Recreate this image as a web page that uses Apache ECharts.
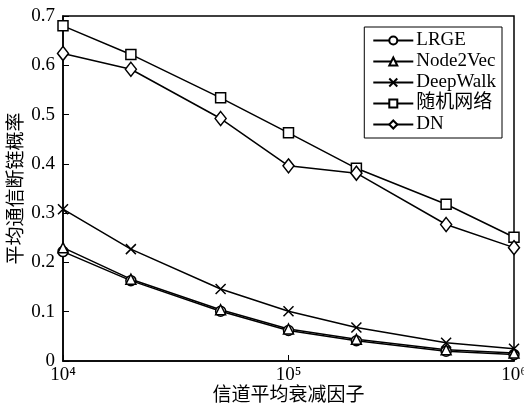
<!DOCTYPE html>
<html>
<head>
<meta charset="utf-8">
<script src="https://cdn.jsdelivr.net/npm/echarts@6/dist/echarts.min.js"></script>
<style>
  html, body { margin: 0; padding: 0; background: #fff; }
  #box1 { width: 524px; height: 404px; }
</style>
</head>
<body>
<div id="box1"></div>
<script>
let xValues = [1e4, 2e4, 5e4, 1e5, 2e5, 5e5, 1e6];
let lrge = [0.222, 0.163, 0.101, 0.062, 0.041, 0.020, 0.013];
let node2vec = [0.230, 0.166, 0.104, 0.065, 0.044, 0.023, 0.016];
let deepwalk = [0.308, 0.227, 0.146, 0.101, 0.068, 0.037, 0.025];
let randomNet = [0.680, 0.622, 0.534, 0.463, 0.391, 0.318, 0.251];
let dn = [0.624, 0.592, 0.492, 0.396, 0.381, 0.277, 0.230];
let xTickLabels = { 10000: '10⁴', 100000: '10⁵', 1000000: '10⁶' };

let serif = '"Liberation Serif", "Times New Roman", serif';
let cjk = '"Liberation Serif", "Noto Sans CJK SC", serif';

function pairs(ys) {
    return xValues.map((x, i) => [x, ys[i]]);
}

function makeSeries(name, ys, symbol, size) {
    return {
        name: name,
        type: 'line',
        data: pairs(ys),
        symbol: symbol,
        symbolSize: size,
        lineStyle: { color: '#000', width: 1.5 },
        itemStyle: { color: '#fff', borderColor: '#000', borderWidth: 1.5 },
        emphasis: { disabled: true },
        animation: false
    };
}

let box1 = document.querySelector('#box1');
let myChart1 = echarts.init(box1);
let option1 = {
    backgroundColor: '#fff',
    grid: {
        left: 63,
        right: 10,
        top: 16,
        bottom: 43,
        outerBoundsMode: 'none',
        show: true,
        borderColor: '#000',
        borderWidth: 1.5
    },
    legend: {
        right: 22,
        top: 27,
        orient: 'vertical',
        itemGap: 2,
        itemWidth: 40,
        itemHeight: 10,
        padding: [4, 6, 4, 8],
        borderColor: '#000',
        borderWidth: 1,
        backgroundColor: '#fff',
        textStyle: { color: '#000', fontSize: 19, lineHeight: 18, fontFamily: cjk, padding: [0, 0, 0, -2] },
        data: ['LRGE', 'Node2Vec', 'DeepWalk', '随机网络', 'DN']
    },
    xAxis: {
        type: 'log',
        logBase: 10,
        min: 1e4,
        max: 1e6,
        name: '信道平均衰减因子',
        nameLocation: 'middle',
        nameGap: 26,
        nameMoveOverlap: false,
        nameTextStyle: { color: '#000', fontSize: 19, fontFamily: cjk },
        axisLine: { lineStyle: { color: '#000', width: 1.5 } },
        axisTick: { inside: true, length: 6, lineStyle: { color: '#000' } },
        splitLine: { show: false },
        axisLabel: {
            color: '#000',
            fontSize: 19,
            fontFamily: serif,
            margin: 5,
            formatter: v => xTickLabels[Math.round(v)] || ''
        }
    },
    yAxis: {
        type: 'value',
        min: 0,
        max: 0.7,
        interval: 0.1,
        name: '平均通信断链概率',
        nameLocation: 'middle',
        nameGap: 36,
        nameMoveOverlap: false,
        nameTextStyle: { color: '#000', fontSize: 19, fontFamily: cjk },
        axisLine: { show: true, lineStyle: { color: '#000', width: 1.5 } },
        axisTick: { show: true, inside: true, length: 6, lineStyle: { color: '#000' } },
        splitLine: { show: false },
        axisLabel: {
            color: '#000',
            fontSize: 19,
            fontFamily: serif,
            margin: 8,
            formatter: v => (v === 0 ? '0' : v.toFixed(1))
        }
    },
    series: [
        makeSeries('LRGE', lrge, 'circle', 10),
        makeSeries('Node2Vec', node2vec, 'triangle', 10),
        makeSeries('DeepWalk', deepwalk, 'path://M0,0L10,10M10,0L0,10', 10),
        makeSeries('随机网络', randomNet, 'rect', 10),
        makeSeries('DN', dn, 'diamond', [11, 14])
    ]
};
myChart1.setOption(option1);
</script>
</body>
</html>
